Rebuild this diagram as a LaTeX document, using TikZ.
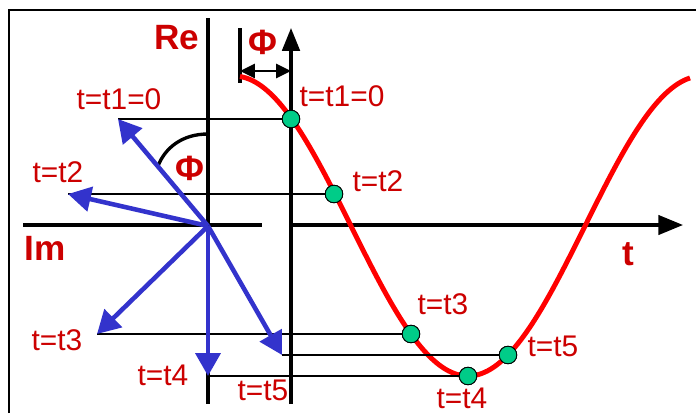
\documentclass[tikz,border=0pt]{standalone}
\usepackage{fontspec}
\setmainfont{Liberation Sans}
\usetikzlibrary{arrows.meta}
\definecolor{Ink}{HTML}{CC0000}
\definecolor{Wave}{HTML}{FF0000}
\definecolor{Phasor}{HTML}{3333CC}
\definecolor{DotFill}{HTML}{00CC88}
\tikzset{axis/.style={line width=1.8pt,draw=black},proj/.style={line width=1pt,draw=black},phasor/.style={-{Triangle[length=13pt,width=14pt]},line width=2.6pt,draw=Phasor},wave/.style={line width=2.8pt,draw=Wave},dot/.style={circle,fill=DotFill,draw=black,line width=.5pt,minimum size=10pt,inner sep=0pt},lbl/.style={text=Ink,font=\fontsize{17}{20}\selectfont,inner sep=0pt},big/.style={text=Ink,font=\fontsize{20}{24}\selectfont\bfseries,inner sep=0pt}}
\begin{document}
\begin{tikzpicture}[x=0.02cm,y=-0.02cm]
      \useasboundingbox (0,0) rectangle (696,413);
      \draw[line width=1.7pt] (9,413) -- (9,10) -- (696,10);
      % phasor plane
      \coordinate (O) at (208,226);
      \coordinate (imL) at (23,225);\coordinate (imR) at (262,225);
      \coordinate (reT) at (208,18);\coordinate (reB) at (208,404);
      \draw[axis](imL)--(imR);\draw[axis](reT)--(reB);
      \node[big](re) at (177,38){Re};
      \node[big](im) at (45,248){Im};
      % time axes
      \coordinate (tO) at (291,225);
      \coordinate (tB) at (291,404);\coordinate (tT) at (291,28);\coordinate (tR) at (683,225);
      \draw[axis,-{Triangle[length=13pt,width=10pt]}](tB)--(tT);
      \draw[axis,-{Triangle[length=14pt,width=11pt]}](tO)--(tR);
      \node[big](t) at (628,254){t};
      % phase shift
      \coordinate (phT) at (240,28);\coordinate (phB) at (240,83);
      \coordinate (phA) at (240,71);\coordinate (phC) at (291,71);
      \draw[axis](phT)--(phB);
      \draw[line width=1.6pt,{Triangle[length=8.5pt,width=8pt]}-{Triangle[length=8.5pt,width=8pt]}](phA)--(phC);
      \node[big](phi1) at (263,42){Φ};
      \node[big](phi2) at (190,168){Φ};
      \draw[line width=1.9pt](208,134) .. controls (182,134) and (165,148) .. (158,166);
      % wave
      \draw[wave] plot[domain=240:690,samples=150] (\x,{226-150*cos(0.76923*(\x-234))});
      \coordinate (tip1) at (118,119);\coordinate (tip2) at (68,194);\coordinate (tip3) at (97,334);
      \coordinate (tip4) at (208,376);\coordinate (tip5) at (282,355);
      \node[dot](p1) at (291,119){};\node[dot](p2) at (334,194){};\node[dot](p3) at (411,334){};
      \node[dot](p4) at (468,376){};\node[dot](p5) at (508,355){};
      \foreach \i in {1,...,5}{\draw[proj](tip\i)--(p\i.center);}
      \foreach \i in {1,...,5}{\draw[phasor](O)--(tip\i);}
      \foreach \i in {1,...,5}{\node[dot] at (p\i){};}
      % labels
      \node[lbl](l1) at (119,99){t=t1=0};\node[lbl](r1) at (342,96){t=t1=0};
      \node[lbl](l2) at (58,172){t=t2};\node[lbl](r2) at (378,181){t=t2};
      \node[lbl](l3) at (57,340){t=t3};\node[lbl](r3) at (443,304){t=t3};
      \node[lbl](l4) at (163,375){t=t4};\node[lbl](r4) at (462,398){t=t4};
      \node[lbl](l5) at (263,390){t=t5};\node[lbl](r5) at (553,346){t=t5};
    \end{tikzpicture}
\end{document}
